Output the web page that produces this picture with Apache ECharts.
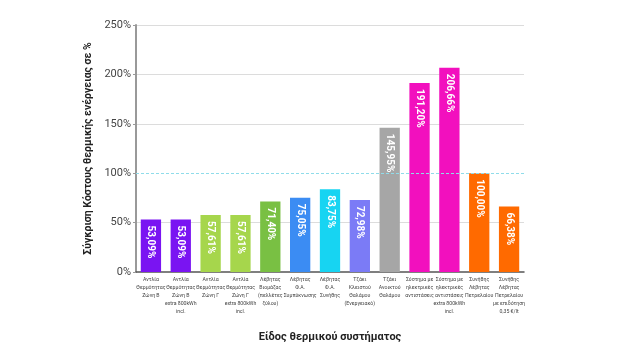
<!DOCTYPE html>
<html>
<head>
<meta charset="utf-8">
<script src="https://cdn.jsdelivr.net/npm/echarts@6/dist/echarts.min.js"></script>
<style>
    html, body { margin: 0; padding: 0; background: #fff; }
    #chart { width: 620px; height: 348px; }
</style>
</head>
<body>
<div id="chart"></div>
<script>
// heating systems, cost relative to the oil boiler (=100%)
const categories = [
    'Αντλία\nΘερμότητας\nΖώνη Β',
    'Αντλία\nΘερμότητας\nΖώνη Β\nextra 800kWh\nincl.',
    'Αντλία\nΘερμότητας\nΖώνη Γ',
    'Αντλία\nΘερμότητας\nΖώνη Γ\nextra 800kWh\nincl.',
    'Λέβητας\nΒιομάζας\n(πελλέτες\nξύλου)',
    'Λέβητας\nΦ.Α.\nΣυμπύκνωσης',
    'Λέβητας\nΦ.Α.\nΣυνήθης',
    'Τζάκι\nΚλειστού\nΘαλάμου\n(Ενεργειακό)',
    'Τζάκι\nΑνοικτού\nΘαλάμου',
    'Σύστημα με\nηλεκτρικές\nαντιστάσεις',
    'Σύστημα με\nηλεκτρικές\nαντιστάσεις\nextra 800kWh\nincl.',
    'Συνήθης\nΛέβητας\nΠετρελαίου',
    'Συνήθης\nΛέβητας\nΠετρελαίου\nμε επιδότηση\n0,35 €/lt'
];
const values = [53.09, 53.09, 57.61, 57.61, 71.40, 75.05, 83.75, 72.98, 145.95, 191.20, 206.66, 100.00, 66.38];
const barColors = [
    '#7a14f2', '#7a14f2', '#a6d64c', '#a6d64c', '#79c043', '#3b8cf3', '#17d4f2',
    '#7b7bf6', '#a6a6a6', '#f210be', '#f210be', '#ff6a00', '#ff6a00'
];
const refLine = 100;

const myChart = echarts.init(document.getElementById('chart'));

let option = {
    backgroundColor: '#fff',
    animation: false,
    textStyle: { fontFamily: 'Roboto, "Liberation Sans", sans-serif' },
    grid: { left: 136, right: 96, top: 25, bottom: 75 },
    xAxis: {
        type: 'category',
        data: categories,
        name: 'Είδος θερμικού συστήματος',
        nameLocation: 'middle',
        nameGap: 60,
        nameTextStyle: { fontSize: 11, fontWeight: 'bold', color: '#222' },
        axisLine: { lineStyle: { color: '#555', width: 1.5 } },
        axisTick: { show: false },
        axisLabel: {
            interval: 0,
            fontSize: 5.2,
            lineHeight: 8,
            color: '#444',
            margin: 4
        }
    },
    yAxis: {
        type: 'value',
        min: 0,
        max: 250,
        interval: 50,
        name: 'Σύγκριση Κόστους θερμικής ενέργειας σε %',
        nameLocation: 'middle',
        nameGap: 37,
        nameTextStyle: { fontSize: 10.5, fontWeight: 'bold', color: '#222' },
        axisLine: { show: true, lineStyle: { color: '#999', width: 2 } },
        axisTick: { show: true, length: 3, lineStyle: { color: '#999' } },
        axisLabel: {
            fontSize: 11,
            color: '#444',
            margin: 5,
            formatter: '{value}%'
        },
        splitLine: {
            lineStyle: { color: ['#fff', '#dcdcdc', '#fff', '#dcdcdc', '#dcdcdc', '#dcdcdc'] }
        }
    },
    series: [{
        type: 'line',
        data: [],
        z: 1,
        silent: true,
        markLine: {
            silent: true,
            symbol: 'none',
            label: { show: false },
            lineStyle: { color: '#8fdcea', type: [3, 2], width: 1 },
            data: [{ yAxis: refLine }]
        }
    }, {
        type: 'bar',
        z: 3,
        barCategoryGap: '32%',
        data: values.map((v, i) => ({ value: v, itemStyle: { color: barColors[i] } })),
        label: {
            show: true,
            position: 'insideTop',
            rotate: -90,
            align: 'left',
            verticalAlign: 'middle',
            distance: 6,
            color: '#fff',
            fontSize: 10,
            fontWeight: 'bold',
            formatter: (p) => p.value.toFixed(2).replace('.', ',') + '%'
        }
    }]
};

myChart.setOption(option);
</script>
</body>
</html>
